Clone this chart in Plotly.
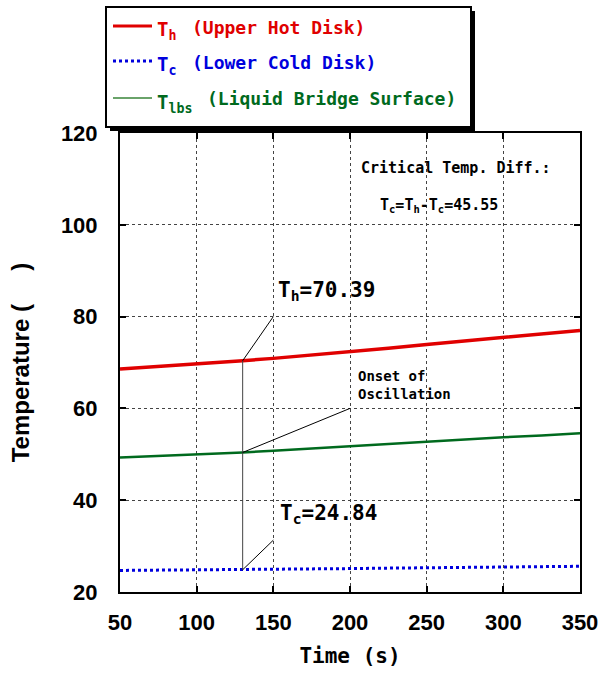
import plotly.graph_objects as go

# ---- data ----
time_s = [50, 75, 100, 130, 150, 175, 200, 225, 250, 275, 300, 325, 350]
T_hot = [68.6, 69.1, 69.6, 70.39, 70.9, 71.6, 72.4, 73.1, 73.9, 74.7, 75.5, 76.2, 77.0]
T_cold = [24.7, 24.75, 24.8, 24.84, 24.9, 25.0, 25.1, 25.2, 25.3, 25.4, 25.5, 25.55, 25.6]
T_lbs = [49.3, 49.6, 50.0, 50.4, 50.8, 51.3, 51.8, 52.3, 52.8, 53.2, 53.7, 54.1, 54.6]

onset_time = 130
Th_onset = 70.39
Tc_onset = 24.84
Tlbs_onset = 50.4
delta_Tc = 45.55

x_ticks = [50, 100, 150, 200, 250, 300, 350]
y_ticks = [20, 40, 60, 80, 100, 120]

# leader line end points (data coords)
th_label_pt = (150, 80)
onset_label_pt = (200, 60)
tc_label_pt = (150, 31.3)

RED = "#e00000"
BLUE = "#0000dd"
GREEN = "#006a1e"
GREEN_LEG = "#6aa36a"
MONO = "DejaVu Sans Mono"

fig = go.Figure()
fig.add_trace(go.Scatter(x=time_s, y=T_hot, mode="lines",
                         line=dict(color=RED, width=3.5), showlegend=False))
fig.add_trace(go.Scatter(x=time_s, y=T_cold, mode="lines",
                         line=dict(color=BLUE, width=3, dash="dot"), showlegend=False))
fig.add_trace(go.Scatter(x=time_s, y=T_lbs, mode="lines",
                         line=dict(color=GREEN, width=2.5), showlegend=False))

shapes = []
# vertical onset line
shapes.append(dict(type="line", xref="x", yref="y", x0=onset_time, x1=onset_time,
                   y0=Tc_onset, y1=Th_onset, line=dict(color="#444", width=1)))
# leader lines
for (yv, pt) in [(Th_onset, th_label_pt), (Tlbs_onset, onset_label_pt), (Tc_onset, tc_label_pt)]:
    shapes.append(dict(type="line", xref="x", yref="y", x0=onset_time, y0=yv,
                       x1=pt[0], y1=pt[1], line=dict(color="black", width=1)))

# legend box with shadow (paper coords)
def px2p(px, py):
    return (px - 120) / 460.0, (592 - py) / 459.0

sx0, sy1 = px2p(110, 11)
sx1, sy0 = px2p(475, 131)
shapes.append(dict(type="rect", xref="paper", yref="paper", x0=sx0, x1=sx1, y0=sy0, y1=sy1,
                   fillcolor="black", line=dict(width=0), layer="above"))
lx0, ly1 = px2p(106, 7)
lx1, ly0 = px2p(471, 127)
shapes.append(dict(type="rect", xref="paper", yref="paper", x0=lx0, x1=lx1, y0=ly0, y1=ly1,
                   fillcolor="white", line=dict(color="black", width=2), layer="above"))

legend_items = [
    ("T<sub>h</sub>", "(Upper Hot Disk)", 190, RED, RED, "solid", 3, 26),
    ("T<sub>c</sub>", "(Lower Cold Disk)", 190, BLUE, BLUE, "dot", 3, 61),
    ("T<sub>lbs</sub>", "(Liquid Bridge Surface)", 205, GREEN, GREEN_LEG, "solid", 2, 98),
]
annotations = []
for sym, desc, dx, tcol, lcol, dash, w, py in legend_items:
    a, yy = px2p(113, py)
    b, _ = px2p(152, py)
    shapes.append(dict(type="line", xref="paper", yref="paper", x0=a, x1=b, y0=yy, y1=yy,
                       line=dict(color=lcol, width=w, dash=dash), layer="above"))
    tx, ty = px2p(155, py + 5)
    annotations.append(dict(xref="paper", yref="paper", x=tx, y=ty, xanchor="left", yanchor="middle",
                            text="<b>" + sym + "</b>", showarrow=False,
                            font=dict(family=MONO, size=19, color=tcol)))
    tx2, ty2 = px2p(dx, py + 1)
    annotations.append(dict(xref="paper", yref="paper", x=tx2, y=ty2, xanchor="left", yanchor="middle",
                            text="<b>" + desc + "</b>", showarrow=False,
                            font=dict(family=MONO, size=18, color=tcol)))

# in-plot text
annotations += [
    dict(x=th_label_pt[0] + 2, y=85.6, xref="x", yref="y", xanchor="left", yanchor="middle",
         text="<b>T<sub>h</sub>=%.2f</b>" % Th_onset, showarrow=False,
         font=dict(family=MONO, size=21, color="black")),
    dict(x=tc_label_pt[0] + 3, y=37.0, xref="x", yref="y", xanchor="left", yanchor="middle",
         text="<b>T<sub>c</sub>=%.2f</b>" % Tc_onset, showarrow=False,
         font=dict(family=MONO, size=21, color="black")),
    dict(x=onset_label_pt[0] + 4, y=65.2, xref="x", yref="y", xanchor="left", yanchor="middle",
         text="<b>Onset of<br>Oscillation</b>", showarrow=False, align="left",
         font=dict(family=MONO, size=14, color="black")),
    dict(x=206, y=112.4, xref="x", yref="y", xanchor="left", yanchor="middle",
         text="<b>Critical Temp. Diff.:</b>", showarrow=False,
         font=dict(family=MONO, size=15, color="black")),
    dict(x=218, y=104.3, xref="x", yref="y", xanchor="left", yanchor="middle",
         text="<b>T<sub>c</sub>=T<sub>h</sub>-T<sub>c</sub>=%.2f</b>" % delta_Tc, showarrow=False,
         font=dict(family=MONO, size=15, color="black")),
]

axis_common = dict(showline=True, linecolor="black", linewidth=2, mirror="allticks",
                   ticks="inside", ticklen=6, tickwidth=2, tickcolor="black",
                   showgrid=True, gridcolor="#444", griddash="dot", gridwidth=1,
                   zeroline=False, automargin=False,
                   tickfont=dict(family="Liberation Sans", size=22, color="black", weight="bold"))

fig.update_layout(
    width=601, height=677,
    margin=dict(l=120, r=21, t=133, b=85),
    paper_bgcolor="white", plot_bgcolor="white",
    showlegend=False,
    xaxis=dict(range=[50, 350], tickvals=x_ticks, ticklabelstandoff=10,
               title=dict(text="<b>Time (s)</b>", standoff=14,
                          font=dict(family=MONO, size=21, color="black")),
               **axis_common),
    yaxis=dict(range=[20, 120], tickvals=y_ticks, ticklabelstandoff=16,
               title=dict(text="<b>Temperature (     )</b>", standoff=24,
                          font=dict(family="Liberation Sans", size=24, color="black")),
               **axis_common),
    shapes=shapes,
    annotations=annotations,
)

fig.write_html("out.html")
